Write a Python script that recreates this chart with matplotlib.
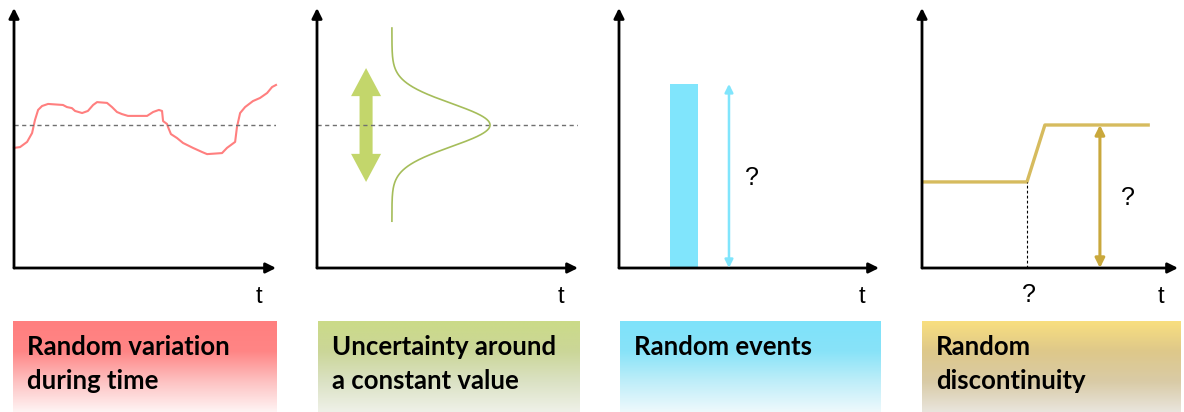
import numpy as np
import matplotlib
matplotlib.use("Agg")
import matplotlib.pyplot as plt
from matplotlib.colors import LinearSegmentedColormap

# ---------------- data ----------------
# Panel 1: random variation during time
p1_t = [0, 2.3, 5.0, 6.9, 8.0, 9.2, 10.7, 13.0, 18.7, 20.2, 22.1, 23.3, 26.0, 28.2,
        30.2, 31.7, 35.5, 37.4, 39.3, 41.2, 43.5, 50.8, 53.1, 55.3, 56.5, 56.9, 58.4,
        58.8, 59.9, 62.2, 64.5, 68.3, 71.8, 73.7, 79.4, 81.3, 84.4, 85.1, 86.3, 88.2,
        91.2, 93.9, 96.6, 98.5, 100]
p1_y = [46.2, 46.5, 48.5, 51.9, 56.9, 60.8, 62.3, 63.1, 62.7, 61.9, 61.5, 60.4, 59.6,
        60.4, 62.7, 63.8, 63.5, 61.9, 60.0, 59.2, 58.5, 58.5, 60.0, 60.8, 60.4, 56.5,
        55.4, 54.2, 51.5, 50.0, 48.1, 46.2, 44.6, 43.8, 44.2, 46.2, 48.5, 54.2, 59.6,
        61.9, 64.2, 65.4, 67.3, 69.6, 70.4]
mean_level = 55

# Panel 2: uncertainty around a constant value (normal curve)
p2_center = 55
p2_sigma = 8.3
p2_base_t = 28.7
p2_peak_t = 66.3
p2_range = (18.0, 92.3)
p2_arrow_t = 18.8
p2_arrow_span = (33.1, 76.9)

# Panel 3: random event
p3_event_t = 25.0
p3_event_w = 10.8
p3_event_h = 70.8
p3_arrow_t = 42.3

# Panel 4: random discontinuity
p4_t = [0, 41, 48, 89]
p4_y = [33.1, 33.1, 55, 55]
p4_arrow_t = 69.5

labels = [["Random variation", "during time"],
          ["Uncertainty around", "a constant value"],
          ["Random events"],
          ["Random", "discontinuity"]]

# ---------------- figure ----------------
W, H = 1184, 412
fig = plt.figure(figsize=(W / 100, H / 100), dpi=100)

def px_axes(x0, x1, ytop, ybot):
    return fig.add_axes([x0 / W, 1 - ybot / H, (x1 - x0) / W, (ybot - ytop) / H])

panel_x = [(14, 276), (317, 578), (619, 879), (922, 1178)]
axes = []
for (x0, x1) in panel_x:
    ax = px_axes(x0, x1, 8, 268)
    ax.set_xlim(0, 100)
    ax.set_ylim(0, 100)
    ax.axis("off")
    for end in [(1, 0), (0, 1)]:
        ax.annotate("", xy=end, xytext=(0, 0), xycoords="axes fraction",
                    textcoords="axes fraction",
                    arrowprops=dict(arrowstyle="-|>", lw=2.0, color="black",
                                    mutation_scale=15, shrinkA=0, shrinkB=0),
                    annotation_clip=False)
    ax.text(93.5, -11, "t", ha="center", va="center", fontsize=17,
            family="Liberation Sans", clip_on=False)
    axes.append(ax)

ax1, ax2, ax3, ax4 = axes

# Panel 1
ax1.plot(p1_t, p1_y, color="#ff7f7f", lw=1.5, clip_on=False)
ax1.axhline(mean_level, color="#707070", lw=1.0, ls=(0, (3, 2.5)))

# Panel 2
ax2.axhline(p2_center, color="#707070", lw=1.0, ls=(0, (3, 2.5)))
yy = np.linspace(p2_range[0], p2_range[1], 400)
xx = p2_base_t + (p2_peak_t - p2_base_t) * np.exp(-0.5 * ((yy - p2_center) / p2_sigma) ** 2)
ax2.plot(xx, yy, color="#a5bd5a", lw=1.2)
green = "#c3d66b"
for target in p2_arrow_span:
    ax2.arrow(p2_arrow_t, p2_center, 0, target - p2_center, width=5.0,
              head_width=11.5, head_length=10.8, length_includes_head=True,
              color=green, lw=0)

# Panel 3
ax3.bar([p3_event_t], [p3_event_h], width=p3_event_w, color="#80e5fc")
ax3.annotate("", xy=(p3_arrow_t, p3_event_h), xytext=(p3_arrow_t, 0),
             arrowprops=dict(arrowstyle="<|-|>", lw=1.8, color="#80e5fc",
                             mutation_scale=12, shrinkA=0, shrinkB=0))
ax3.text(51, 34.6, "?", ha="center", va="center", fontsize=18, family="Liberation Sans")

# Panel 4
ax4.plot(p4_t, p4_y, color="#d6bb5e", lw=2.4, solid_capstyle="butt", clip_on=False)
ax4.plot([p4_t[1], p4_t[1]], [0, p4_y[1]], color="black", lw=0.8, ls=(0, (2.5, 2)))
ax4.annotate("", xy=(p4_arrow_t, p4_y[-1]), xytext=(p4_arrow_t, 0),
             arrowprops=dict(arrowstyle="<|-|>", lw=2.2, color="#c9a83c",
                             mutation_scale=14, shrinkA=0, shrinkB=0))
ax4.text(80.5, 26.9, "?", ha="center", va="center", fontsize=18, family="Liberation Sans")
ax4.text(41.8, -10.4, "?", ha="center", va="center", fontsize=18,
         family="Liberation Sans", clip_on=False)

# ---------------- label boxes ----------------
box_x = [(13, 277), (318, 580), (620, 881), (922, 1181)]
box_top, box_bot = 321, 412
grads = [
    ["#ff7f7f", "#ff8585", "#fdc2c2", "#fff4f4"],
    ["#cbdb88", "#cbd698", "#dbe2c4", "#eff1e8"],
    ["#7ee2fb", "#88e3f8", "#bfeef9", "#eef9fc"],
    ["#f9df7f", "#dec88a", "#d9cba6", "#e9e5dd"],
]
lay = fig.add_axes([0, 0, 1, 1], zorder=-1)
lay.set_xlim(0, W)
lay.set_ylim(H, 0)
lay.axis("off")
for (x0, x1), cols, lines in zip(box_x, grads, labels):
    cmap = LinearSegmentedColormap.from_list("g", cols)
    grad = np.linspace(0, 1, 256).reshape(-1, 1)
    lay.imshow(grad, cmap=cmap, aspect="auto", extent=(x0, x1, box_bot, box_top),
               interpolation="bilinear")
    for k, line in enumerate(lines):
        lay.text(x0 + 14, 347 + 34 * k, line, ha="left", va="center",
                 fontsize=18.5, fontweight="bold", family="Lato", color="black")
lay.set_xlim(0, W)
lay.set_ylim(H, 0)

fig.savefig("out.png", dpi=100, facecolor="white")
